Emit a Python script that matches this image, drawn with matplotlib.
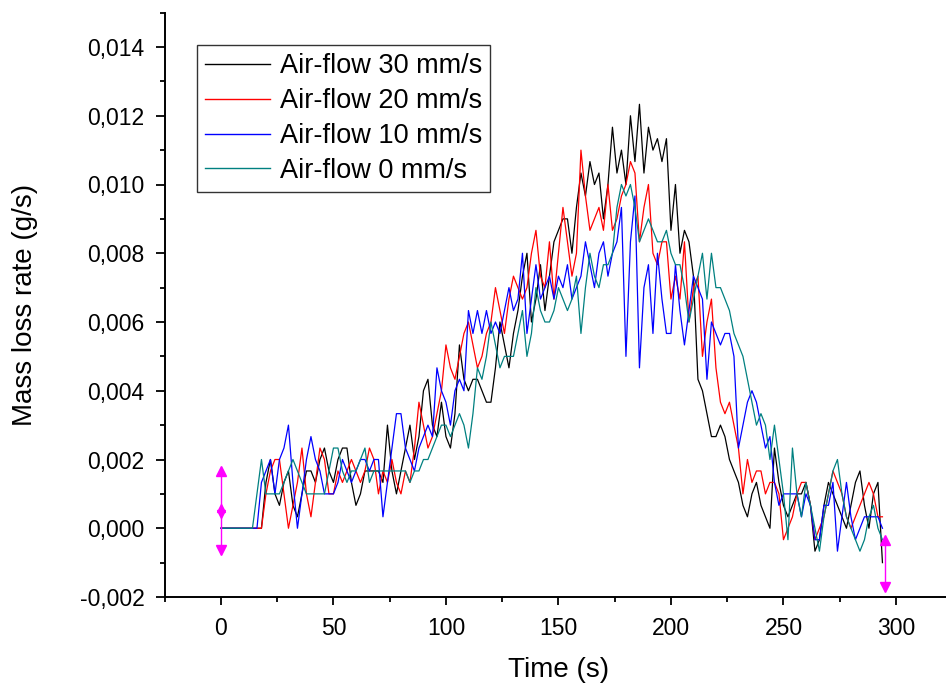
import numpy as np
import matplotlib
matplotlib.use("Agg")
import matplotlib.pyplot as plt
from matplotlib.ticker import MultipleLocator, FixedLocator
from matplotlib.transforms import offset_copy

plt.rcParams['font.family'] = ['Liberation Sans', 'DejaVu Sans']

# time axis (s), one sample every 2 s
time_s = np.arange(0, 296, 2)

# mass loss rate in units of 1/3 mg/s (value in g/s = k / 3000)
k_30 = [0, 0, 0, 0, 0, 0, 0, 0, 0, 0,
        4, 6, 3, 2, 4, 5, 2, 1, 3, 5,
        5, 4, 6, 7, 5, 4, 6, 7, 7, 4,
        2, 3, 5, 5, 5, 5, 4, 9, 5, 3,
        5, 7, 9, 6, 8, 12, 13, 9, 8, 11,
        8, 7, 10, 16, 13, 12, 13, 13, 12, 11,
        11, 14, 18, 16, 14, 17, 19, 22, 24, 18,
        20, 23, 19, 22, 25, 26, 27, 27, 24, 28,
        31, 29, 32, 30, 31, 27, 30, 35, 31, 33,
        30, 36, 32, 37, 31, 35, 33, 34, 32, 34,
        26, 30, 24, 26, 25, 22, 13, 12, 10, 8,
        8, 9, 8, 6, 5, 4, 2, 1, 3, 4,
        2, 1, 0, 7, 4, 2, 1, 2, 3, 3,
        4, 2, -2, -1, 2, 4, 3, 2, 1, 0,
        2, 4, 5, 2, 0, 3, 4, -3]

k_20 = [0, 0, 0, 0, 0, 0, 0, 0, 0, 0,
        3, 5, 6, 6, 3, 0, 2, 4, 7, 3,
        1, 4, 7, 6, 3, 3, 5, 4, 5, 6,
        5, 4, 5, 7, 6, 3, 5, 4, 6, 4,
        3, 5, 4, 7, 11, 9, 7, 8, 10, 12,
        16, 14, 13, 15, 17, 18, 16, 14, 15, 17,
        18, 21, 19, 17, 20, 22, 21, 20, 21, 24,
        26, 22, 21, 25, 20, 24, 28, 25, 22, 24,
        33, 29, 26, 27, 28, 26, 30, 26, 27, 29,
        30, 32, 31, 25, 28, 30, 24, 23, 25, 25,
        20, 22, 20, 25, 18, 21, 22, 15, 18, 20,
        14, 11, 10, 11, 9, 7, 3, 6, 4, 5,
        5, 3, 4, 4, 3, -1, 0, 1, 3, 4,
        4, 2, -1, 0, 1, 3, 5, 4, 3, 1,
        0, 1, 2, 3, 4, 3, 1, 1]

k_10 = [0, 0, 0, 0, 0, 0, 0, 0, 0, 4,
        5, 6, 3, 6, 7, 9, 4, 0, 3, 6,
        8, 6, 5, 3, 3, 3, 4, 6, 5, 4,
        5, 6, 6, 5, 6, 6, 1, 4, 7, 10,
        10, 7, 6, 5, 7, 8, 9, 8, 14, 12,
        11, 9, 12, 13, 12, 19, 17, 19, 17, 19,
        17, 18, 17, 19, 21, 19, 20, 24, 17, 20,
        23, 20, 21, 22, 20, 22, 21, 23, 20, 21,
        22, 25, 23, 21, 24, 25, 22, 24, 25, 28,
        15, 25, 29, 14, 21, 23, 17, 24, 20, 17,
        17, 23, 19, 16, 19, 22, 21, 20, 13, 18,
        17, 16, 17, 17, 15, 7, 9, 11, 12, 11,
        9, 7, 8, 4, 2, 3, 3, 3, 3, 1,
        3, 2, -1, -1, 2, 2, 4, -2, 1, 4,
        1, -1, 0, 1, 1, 1, 1, 0]

k_0 = [0, 0, 0, 0, 0, 0, 0, 0, 3, 6,
       3, 3, 3, 3, 4, 5, 6, 5, 4, 3,
       3, 3, 3, 3, 5, 7, 7, 5, 4, 5,
       5, 6, 7, 4, 5, 5, 5, 5, 5, 5,
       5, 5, 4, 5, 5, 6, 6, 7, 8, 9,
       9, 8, 9, 10, 9, 7, 10, 14, 13, 15,
       18, 16, 14, 15, 15, 15, 17, 19, 15, 17,
       21, 19, 18, 18, 19, 21, 20, 19, 20, 22,
       17, 21, 24, 22, 21, 23, 23, 24, 28, 30,
       29, 30, 28, 25, 26, 27, 26, 25, 25, 26,
       24, 23, 23, 21, 18, 20, 22, 24, 20, 24,
       21, 21, 20, 19, 17, 16, 15, 13, 11, 9,
       10, 9, 6, 9, 6, 3, -1, 7, 3, 1,
       4, 2, 0, -2, 1, 3, 5, 6, 3, 1,
       0, -1, -2, -1, 1, 2, 0, -1]

series_labels = ["Air-flow 30 mm/s", "Air-flow 20 mm/s",
                 "Air-flow 10 mm/s", "Air-flow 0 mm/s"]
series_colors = ["#000000", "#ff0000", "#0000ff", "#008080"]

# magenta error bars
bar_x = [0, 295]
bar_lo = [-0.00075, -0.00182]
bar_hi = [0.00177, -0.00022]
bar_mid_x = [0]
bar_mid_y = [0.0005]

y_ticks = [-0.002, 0.000, 0.002, 0.004, 0.006, 0.008, 0.010, 0.012, 0.014]
y_tick_labels = ["-0,002", "0,000", "0,002", "0,004", "0,006",
                 "0,008", "0,010", "0,012", "0,014"]
x_ticks = [0, 50, 100, 150, 200, 250, 300]

fig = plt.figure(figsize=(9.46, 6.86), dpi=100)
W, H = 946, 686
x_left_px, x_right_px = 164.7, 164.7 + 350 * 2.25
y_bot_px, y_top_px = 597, 597 - 17 * 34.375
ax = fig.add_axes([x_left_px / W, (H - y_bot_px) / H,
                   (x_right_px - x_left_px) / W, (y_bot_px - y_top_px) / H])

for k, lab, col in zip([k_30, k_20, k_10, k_0], series_labels, series_colors):
    ax.plot(time_s, np.array(k) / 3000.0, color=col, lw=0.9, label=lab)

mag = "#ff00ff"
ax.vlines(bar_x, bar_lo, bar_hi, color=mag, lw=1.0, zorder=5)
tr_up = offset_copy(ax.transData, fig=fig, x=0, y=-4, units='dots')
tr_dn = offset_copy(ax.transData, fig=fig, x=0, y=4, units='dots')
ax.plot(bar_x, bar_hi, ls='none', marker='^', ms=6.5, color=mag,
        mec=mag, transform=tr_up, zorder=6)
ax.plot(bar_x, bar_lo, ls='none', marker='v', ms=6.5, color=mag,
        mec=mag, transform=tr_dn, zorder=6)
tr_mu = offset_copy(ax.transData, fig=fig, x=0, y=3, units='dots')
tr_md = offset_copy(ax.transData, fig=fig, x=0, y=-3, units='dots')
ax.plot(bar_mid_x, bar_mid_y, ls='none', marker='^', ms=5.5, color=mag,
        transform=tr_mu, zorder=6)
ax.plot(bar_mid_x, bar_mid_y, ls='none', marker='v', ms=5.5, color=mag,
        transform=tr_md, zorder=6)

ax.set_xlim(-25, 325)
ax.set_ylim(-0.002, 0.015)
ax.spines['top'].set_visible(False)
ax.spines['right'].set_visible(False)
ax.spines['left'].set_linewidth(1.4)
ax.spines['bottom'].set_linewidth(1.4)

ax.xaxis.set_major_locator(FixedLocator(x_ticks))
ax.xaxis.set_minor_locator(MultipleLocator(25))
ax.yaxis.set_major_locator(FixedLocator(y_ticks))
ax.set_yticklabels(y_tick_labels)
ax.yaxis.set_minor_locator(MultipleLocator(0.001))
ax.tick_params(axis='both', which='major', direction='out', width=1.3,
               labelsize=16.5)
ax.tick_params(axis='y', which='major', length=6.5, pad=8)
ax.tick_params(axis='x', which='major', length=5.5, pad=9)
ax.tick_params(axis='both', which='minor', direction='out', width=1.3,
               length=3.5)

ax.set_xlabel("Time (s)", fontsize=20, labelpad=12)
ax.set_ylabel("Mass loss rate (g/s)", fontsize=20, labelpad=30)

leg = ax.legend(loc='upper left',
                bbox_to_anchor=((197 - x_left_px) / (x_right_px - x_left_px),
                                (y_bot_px - 45) / (y_bot_px - y_top_px)),
                fontsize=19.5, frameon=True, fancybox=False, shadow=False,
                handlelength=2.4, handletextpad=0.35, labelspacing=0.33,
                borderpad=0.3, borderaxespad=0)
leg.get_frame().set_edgecolor('#000000')
leg.get_frame().set_linewidth(1.0)
for h in leg.get_lines():
    h.set_linewidth(1.0)

fig.savefig("out.png", dpi=100)
